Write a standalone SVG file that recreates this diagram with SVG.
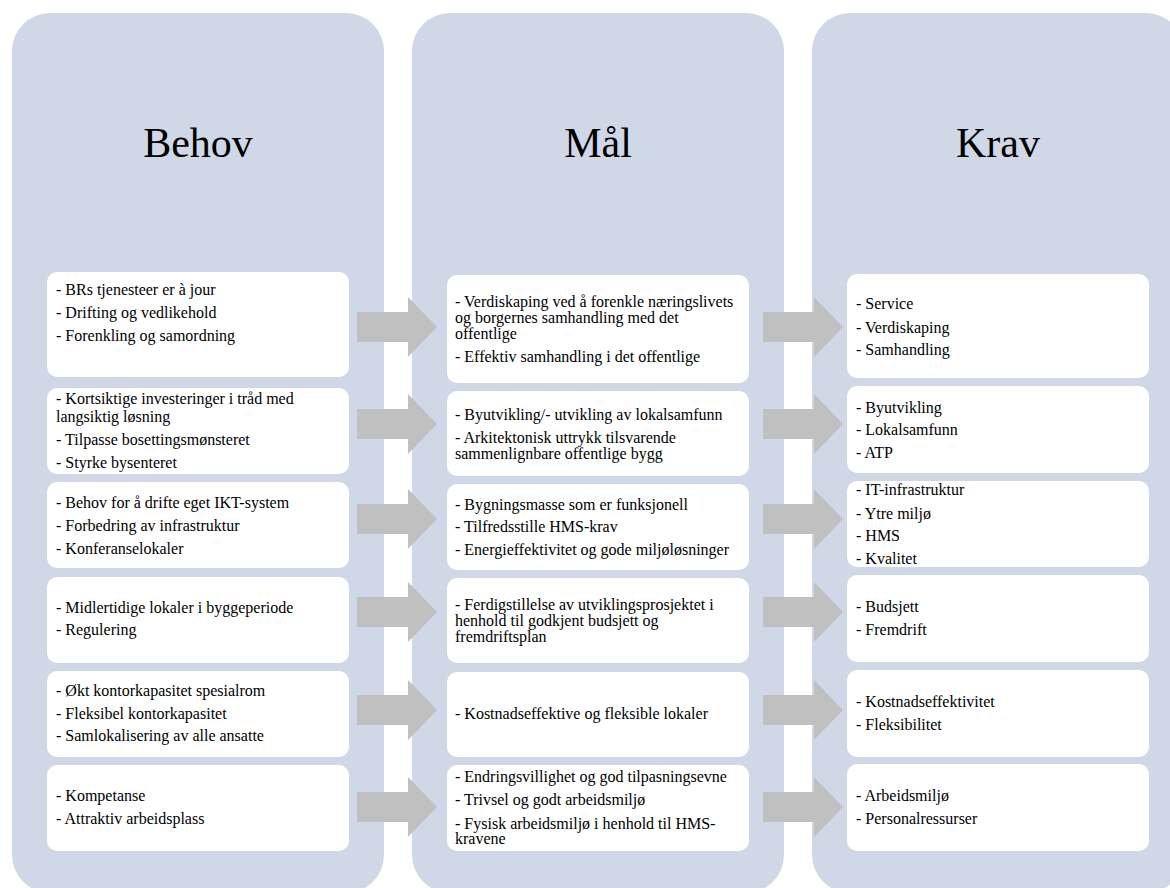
<svg xmlns="http://www.w3.org/2000/svg" width="1170" height="888" viewBox="0 0 1170 888">
<style>
.col{fill:#d0d7e6;}
.box{fill:#ffffff;}
.arr{fill:#c0c0c0;}
.title{font-family:"Liberation Serif","Times New Roman",serif;font-size:42px;fill:#000;text-anchor:middle;}
.t{font-family:"Liberation Serif","Times New Roman",serif;font-size:16px;fill:#000;}
</style>
<defs>
<path id="arrow" class="arr" d="M0,-15 L51,-15 L51,-30 L80,0 L51,30 L51,15 L0,15 Z"/>
</defs>
<rect width="1170" height="888" fill="#ffffff"/>
<g id="col-behov">
<rect class="col" x="12" y="13" width="372" height="880" rx="38"/>
<text class="title" x="198" y="157">Behov</text>
</g>
<g id="col-mal">
<rect class="col" x="412" y="13" width="372" height="880" rx="38"/>
<text class="title" x="598" y="157">Mål</text>
</g>
<g id="col-krav">
<rect class="col" x="812" y="13" width="372" height="880" rx="38"/>
<text class="title" x="998" y="157">Krav</text>
</g>
<g id="connectors">
<use href="#arrow" x="357" y="327"/>
<use href="#arrow" x="357" y="424"/>
<use href="#arrow" x="357" y="519"/>
<use href="#arrow" x="357" y="612"/>
<use href="#arrow" x="357" y="710"/>
<use href="#arrow" x="357" y="807"/>
<use href="#arrow" x="763" y="327"/>
<use href="#arrow" x="763" y="424"/>
<use href="#arrow" x="763" y="519"/>
<use href="#arrow" x="763" y="612"/>
<use href="#arrow" x="763" y="710"/>
<use href="#arrow" x="763" y="807"/>
</g>
<g id="behov-1">
<rect class="box" x="47" y="272" width="302" height="105" rx="10"/>
<text class="t" x="56" y="294.5">- BRs tjenesteer er à jour</text>
<text class="t" x="56" y="317.5">- Drifting og vedlikehold</text>
<text class="t" x="56" y="340.5">- Forenkling og samordning</text>
</g>
<g id="behov-2">
<rect class="box" x="47" y="388" width="302" height="86" rx="10"/>
<text class="t" x="56" y="404">- Kortsiktige investeringer i tråd med</text>
<text class="t" x="56" y="421.5">langsiktig løsning</text>
<text class="t" x="56" y="445">- Tilpasse bosettingsmønsteret</text>
<text class="t" x="56" y="467.5">- Styrke bysenteret</text>
</g>
<g id="behov-3">
<rect class="box" x="47" y="482" width="302" height="86" rx="10"/>
<text class="t" x="56" y="507.5">- Behov for å drifte eget IKT-system</text>
<text class="t" x="56" y="530.5">- Forbedring av infrastruktur</text>
<text class="t" x="56" y="553.5">- Konferanselokaler</text>
</g>
<g id="behov-4">
<rect class="box" x="47" y="577" width="302" height="86" rx="10"/>
<text class="t" x="56" y="612.5">- Midlertidige lokaler i byggeperiode</text>
<text class="t" x="56" y="635">- Regulering</text>
</g>
<g id="behov-5">
<rect class="box" x="47" y="671" width="302" height="86" rx="10"/>
<text class="t" x="56" y="696">- Økt kontorkapasitet spesialrom</text>
<text class="t" x="56" y="718.5">- Fleksibel kontorkapasitet</text>
<text class="t" x="56" y="741">- Samlokalisering av alle ansatte</text>
</g>
<g id="behov-6">
<rect class="box" x="47" y="765" width="302" height="86" rx="10"/>
<text class="t" x="56" y="801">- Kompetanse</text>
<text class="t" x="56" y="823.5">- Attraktiv arbeidsplass</text>
</g>
<g id="mal-1">
<rect class="box" x="447" y="275" width="302" height="108" rx="10"/>
<text class="t" x="455" y="306.5">- Verdiskaping ved å forenkle næringslivets</text>
<text class="t" x="455" y="322.5">og borgernes samhandling med det</text>
<text class="t" x="455" y="338.5">offentlige</text>
<text class="t" x="455" y="361.5">- Effektiv samhandling i det offentlige</text>
</g>
<g id="mal-2">
<rect class="box" x="447" y="391" width="302" height="85" rx="10"/>
<text class="t" x="455" y="419.5">- Byutvikling/- utvikling av lokalsamfunn</text>
<text class="t" x="455" y="442.5">- Arkitektonisk uttrykk tilsvarende</text>
<text class="t" x="455" y="458.5">sammenlignbare offentlige bygg</text>
</g>
<g id="mal-3">
<rect class="box" x="447" y="484" width="302" height="86" rx="10"/>
<text class="t" x="455" y="509.5">- Bygningsmasse som er funksjonell</text>
<text class="t" x="455" y="532">- Tilfredsstille HMS-krav</text>
<text class="t" x="455" y="555">- Energieffektivitet og gode miljøløsninger</text>
</g>
<g id="mal-4">
<rect class="box" x="447" y="578" width="302" height="85" rx="10"/>
<text class="t" x="455" y="609.5">- Ferdigstillelse av utviklingsprosjektet i</text>
<text class="t" x="455" y="626">henhold til godkjent budsjett og</text>
<text class="t" x="455" y="642">fremdriftsplan</text>
</g>
<g id="mal-5">
<rect class="box" x="447" y="672" width="302" height="85" rx="10"/>
<text class="t" x="455" y="718.5">- Kostnadseffektive og fleksible lokaler</text>
</g>
<g id="mal-6">
<rect class="box" x="447" y="765" width="302" height="86" rx="10"/>
<text class="t" x="455" y="782">- Endringsvillighet og god tilpasningsevne</text>
<text class="t" x="455" y="805">- Trivsel og godt arbeidsmiljø</text>
<text class="t" x="455" y="828.5">- Fysisk arbeidsmiljø i henhold til HMS-</text>
<text class="t" x="455" y="844">kravene</text>
</g>
<g id="krav-1">
<rect class="box" x="847" y="274" width="302" height="104" rx="10"/>
<text class="t" x="856" y="309">- Service</text>
<text class="t" x="856" y="332.5">- Verdiskaping</text>
<text class="t" x="856" y="355">- Samhandling</text>
</g>
<g id="krav-2">
<rect class="box" x="847" y="386" width="302" height="87" rx="10"/>
<text class="t" x="856" y="412.5">- Byutvikling</text>
<text class="t" x="856" y="435">- Lokalsamfunn</text>
<text class="t" x="856" y="458">- ATP</text>
</g>
<g id="krav-3">
<rect class="box" x="847" y="481" width="302" height="86" rx="10"/>
<text class="t" x="856" y="495">- IT-infrastruktur</text>
<text class="t" x="856" y="518.5">- Ytre miljø</text>
<text class="t" x="856" y="541">- HMS</text>
<text class="t" x="856" y="563.5">- Kvalitet</text>
</g>
<g id="krav-4">
<rect class="box" x="847" y="575" width="302" height="87" rx="10"/>
<text class="t" x="856" y="612">- Budsjett</text>
<text class="t" x="856" y="635">- Fremdrift</text>
</g>
<g id="krav-5">
<rect class="box" x="847" y="670" width="302" height="87" rx="10"/>
<text class="t" x="856" y="707">- Kostnadseffektivitet</text>
<text class="t" x="856" y="729.5">- Fleksibilitet</text>
</g>
<g id="krav-6">
<rect class="box" x="847" y="764" width="302" height="87" rx="10"/>
<text class="t" x="856" y="801">- Arbeidsmiljø</text>
<text class="t" x="856" y="823.5">- Personalressurser</text>
</g>
</svg>
